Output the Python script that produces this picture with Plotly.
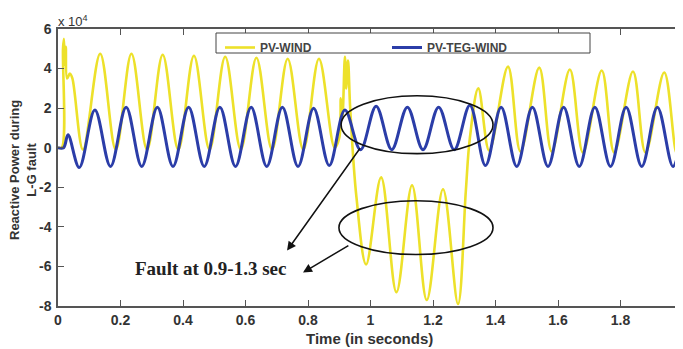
import plotly.graph_objects as go

# Values in units of 1e4 (axis shows "x 10^4")
t_pvteg = [0, 0.018, 0.032, 0.068, 0.118, 0.168, 0.218, 0.268, 0.318, 0.368, 0.418, 0.468,
           0.518, 0.568, 0.618, 0.668, 0.718, 0.768, 0.818, 0.868, 0.918, 0.968, 1.018, 1.068,
           1.118, 1.168, 1.218, 1.268, 1.318, 1.368, 1.418, 1.468, 1.518, 1.568, 1.618, 1.668,
           1.718, 1.768, 1.818, 1.868, 1.918, 1.968, 2.0]
q_pvteg = [0, 0, 0.65, -1.0, 1.9, -0.95, 2.05, -0.95, 2.05, -0.95, 2.05, -0.95,
           2.05, -0.95, 2.05, -0.95, 2.05, -0.95, 2.0, -0.9, 1.9, -0.1, 2.1, -0.1,
           2.05, -0.1, 2.05, -0.1, 2.15, -0.9, 2.05, -0.95, 2.05, -0.95, 2.05, -0.95,
           2.05, -0.95, 2.05, -0.95, 2.05, -0.95, 1.0]

t_pvwind = [0, 0.012, 0.016, 0.019, 0.022, 0.025, 0.029, 0.038, 0.046, 0.08,
            0.135, 0.185, 0.235, 0.285, 0.335, 0.385, 0.435, 0.485, 0.535, 0.585,
            0.635, 0.685, 0.735, 0.785, 0.835, 0.885,
            0.9, 0.905, 0.91, 0.918, 0.922, 0.928, 0.935, 0.955, 0.986,
            1.034, 1.083, 1.133, 1.18, 1.232, 1.28, 1.305, 1.318, 1.345, 1.38,
            1.44, 1.48, 1.54, 1.58, 1.638, 1.68, 1.74, 1.78, 1.84, 1.88, 1.94, 1.98, 2.0]
q_pvwind = [0, 0, 5.0, 5.5, 4.2, 5.1, 3.5, 3.75, 3.5, -0.1,
            4.75, -0.1, 4.75, -0.1, 4.7, -0.1, 4.65, -0.1, 4.6, -0.1,
            4.55, -0.1, 4.5, -0.1, 4.5, 0.0,
            0.5, 2.5, 1.5, 4.6, 3.0, 4.4, 2.0, -2.5, -5.9,
            -1.5, -7.3, -1.9, -7.7, -2.1, -7.9, -2.2, 0.5, 3.0, -0.15,
            4.1, -0.2, 4.05, -0.2, 3.95, -0.25, 3.9, -0.25, 3.85, -0.25, 3.8, -0.3, 1.5]

x_ticks = [0, 0.2, 0.4, 0.6, 0.8, 1.0, 1.2, 1.4, 1.6, 1.8, 2.0]
x_ticklabels = ["0", "0.2", "0.4", "0.6", "0.8", "1", "1.2", "1.4", "1.6", "1.8", "2"]
y_ticks = [-8, -6, -4, -2, 0, 2, 4, 6]
y_ticklabels = ["-8", "-6", "-4", "-2", "0", "2", "4", "6"]

YELLOW = "#EDE12A"
BLUE = "#2B3DA8"
AX = "#555555"

fig = go.Figure()
fig.add_trace(go.Scatter(x=t_pvwind, y=q_pvwind, mode="lines", name="<b>PV-WIND</b>",
                         line=dict(color=YELLOW, width=2.6, shape="spline", smoothing=1.0)))
fig.add_trace(go.Scatter(x=t_pvteg, y=q_pvteg, mode="lines", name="<b>PV-TEG-WIND</b>",
                         line=dict(color=BLUE, width=3, shape="spline", smoothing=1.0)))

# The page body has an 8px default margin, so the figure is drawn 8px right/down.
OFF = 8
W, H = 683 - OFF, 349 - OFF
L, T = 58 - OFF, 29 - OFF
R = 0
B = H - (306 - OFF)
pw, ph = W - L - R, H - T - B

def px(x):  # page pixel x -> paper x
    return (x - OFF - L) / pw

def py(y):  # page pixel y -> paper y
    return (H - B - (y - OFF)) / ph

fig.update_layout(
    width=W, height=H,
    margin=dict(l=L, r=R, t=T, b=B, autoexpand=False),
    paper_bgcolor="white", plot_bgcolor="white",
    showlegend=True,
    legend=dict(orientation="h", x=px(220), y=py(33), xanchor="left", yanchor="top",
                bgcolor="rgba(0,0,0,0)", borderwidth=0,
                entrywidth=122, entrywidthmode="pixels",
                font=dict(family="Liberation Sans", size=12, color="#444444")),
    font=dict(family="Liberation Sans", color="#333333"),
)

fig.update_xaxes(range=[0, 2], tickvals=x_ticks, ticktext=x_ticklabels, automargin=False,
                 ticklabeloverflow="allow",
                 showgrid=False, zeroline=False, showline=True, linecolor=AX, linewidth=1.5,
                 mirror="ticks", ticks="inside", ticklen=6, tickcolor=AX, tickwidth=1.2,
                 tickfont=dict(family="Liberation Sans", size=14, color="#333333", weight="bold"))
fig.update_yaxes(range=[-8, 6], tickvals=y_ticks, ticktext=y_ticklabels, automargin=False,
                 showgrid=False, zeroline=False, showline=True, linecolor=AX, linewidth=1.5,
                 mirror="ticks", ticks="inside", ticklen=6, tickcolor=AX, tickwidth=1.2,
                 ticklabelstandoff=2,
                 tickfont=dict(family="Liberation Sans", size=14, color="#333333", weight="bold"))

# legend box
fig.add_shape(type="rect", xref="paper", yref="paper",
              x0=px(216), x1=px(590), y0=py(53), y1=py(33),
              fillcolor="white", line=dict(color="#444444", width=1), layer="above")

# ellipses
fig.add_shape(type="circle", xref="x", yref="y", x0=0.906, x1=1.392, y0=-0.3, y1=2.63,
              line=dict(color="#111111", width=1.6), layer="above")
fig.add_shape(type="circle", xref="x", yref="y", x0=0.899, x1=1.392, y0=-5.4, y1=-2.68,
              line=dict(color="#111111", width=1.6), layer="above")

# arrows
fig.add_annotation(x=0.733, y=-5.2, ax=0.970, ay=0.05, xref="x", yref="y", axref="x", ayref="y",
                   text="", showarrow=True, arrowhead=2, arrowsize=1.2, arrowwidth=1.5,
                   arrowcolor="#111111")
fig.add_annotation(x=0.784, y=-6.31, ax=0.934, ay=-4.9, xref="x", yref="y", axref="x", ayref="y",
                   text="", showarrow=True, arrowhead=2, arrowsize=1.2, arrowwidth=1.5,
                   arrowcolor="#111111")

fig.add_annotation(x=px(133), y=py(268), xref="paper", yref="paper", xanchor="left", yanchor="middle",
                   text="<b>Fault at 0.9-1.3 sec</b>", showarrow=False,
                   font=dict(family="Liberation Serif", size=19, color="#222222"))

# multiplier
fig.add_annotation(x=px(56), y=py(21), xref="paper", yref="paper", xanchor="left", yanchor="middle",
                   text="x 10<sup>4</sup>", showarrow=False,
                   font=dict(family="Liberation Sans", size=13, color="#333333"))

# axis titles
fig.add_annotation(x=px(23), y=py(170), xref="paper", yref="paper", xanchor="center", yanchor="middle",
                   text="<b>Reactive Power during<br>L-G fault</b>", textangle=-90, showarrow=False,
                   font=dict(family="Liberation Sans", size=13, color="#333333"))
fig.add_annotation(x=px(369), y=py(338), xref="paper", yref="paper", xanchor="center", yanchor="middle",
                   text="<b>Time (in seconds)</b>", showarrow=False,
                   font=dict(family="Liberation Sans", size=15, color="#333333"))

fig.write_html("out.html")
